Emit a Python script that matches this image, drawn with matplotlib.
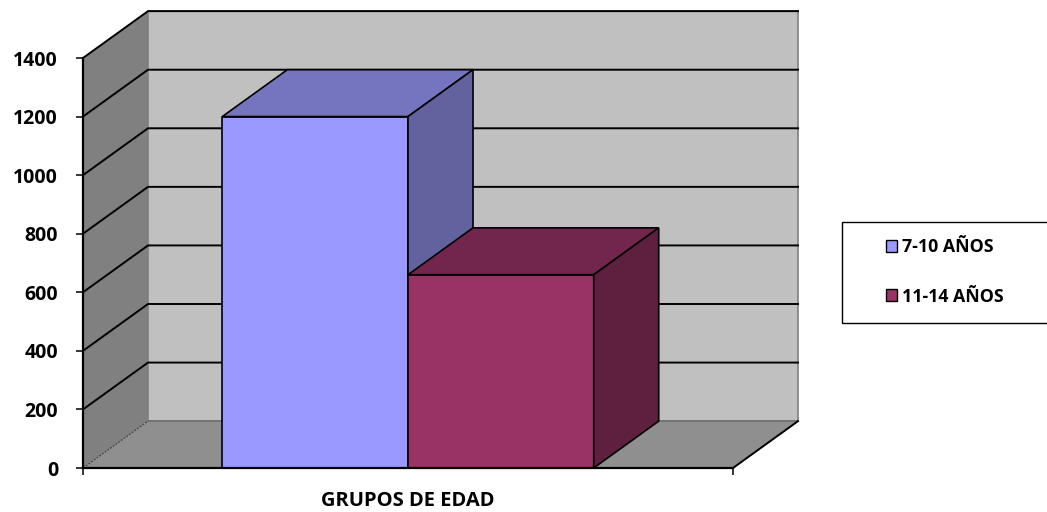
import matplotlib.pyplot as plt
from matplotlib.patches import Polygon, Rectangle, Patch

# Data
series_labels = ["7-10 AÑOS", "11-14 AÑOS"]
series_values = [1200, 660]
y_ticks = [0, 200, 400, 600, 800, 1000, 1200, 1400]
x_title = "GRUPOS DE EDAD"

# Face colours for each bar: front, top, side
front_colors = ["#9999FF", "#993366"]
top_colors = ["#7575BF", "#73264D"]
side_colors = ["#62629F", "#5F1F3F"]

plt.rcParams['font.family'] = ['Open Sans', 'DejaVu Sans']
plt.rcParams['font.weight'] = 'bold'

W, H = 1047, 512
fig = plt.figure(figsize=(W / 100, H / 100), dpi=100)
ax = fig.add_axes([83 / W, (H - 468) / H, 650 / W, 410 / H])
ax.set_xlim(0, 1)
ax.set_ylim(0, 1400)
ax.patch.set_visible(False)

# depth offset of the 3D box, in data units
DX, DY = 0.1, 160
YMAX = y_ticks[-1]


def poly(pts, fc, ec="none", lw=0.0, z=1):
    p = Polygon(pts, closed=True, facecolor=fc, edgecolor=ec, linewidth=lw,
                zorder=z, clip_on=False, joinstyle="miter")
    ax.add_patch(p)


# walls and floor
poly([(DX, DY), (1 + DX, DY), (1 + DX, YMAX + DY), (DX, YMAX + DY)],
     "#C0C0C0", "#808080", 1.2, z=1)
poly([(0, 0), (DX, DY), (DX, YMAX + DY), (0, YMAX)], "#808080", z=1)
poly([(0, 0), (1, 0), (1 + DX, DY), (DX, DY)], "#8F8F8F", z=1)

# gridlines on side and back walls
for v in y_ticks:
    if v == 0:
        ax.plot([0, DX], [0, DY], color="#404040", lw=0.8, ls=(0, (2, 1)),
                clip_on=False, zorder=2)
        ax.plot([DX, 1 + DX], [DY, DY], color="#707070", lw=1.2,
                clip_on=False, zorder=2)
        continue
    ax.plot([0, DX, 1 + DX], [v, v + DY, v + DY], color="black", lw=1.4,
            clip_on=False, zorder=2, solid_joinstyle="miter")

# floor right edge
ax.plot([1, 1 + DX], [0, DY], color="black", lw=1.4, clip_on=False, zorder=2)

# bars, gap width 150%
n = len(series_values)
bw = 1 / (n + 1.5)
start = 0.5 - n * bw / 2
for i, v in enumerate(series_values):
    x0 = start + i * bw
    x1 = x0 + bw
    z = 3 + i
    poly([(x0, 0), (x1, 0), (x1, v), (x0, v)], front_colors[i], "black", 1.2, z)
    poly([(x0, v), (x1, v), (x1 + DX, v + DY), (x0 + DX, v + DY)],
         top_colors[i], "black", 1.2, z)
    poly([(x1, 0), (x1 + DX, DY), (x1 + DX, v + DY), (x1, v)],
         side_colors[i], "black", 1.2, z)

# axes
for s in ["top", "right"]:
    ax.spines[s].set_visible(False)
for s in ["left", "bottom"]:
    ax.spines[s].set_linewidth(1.6)
    ax.spines[s].set_zorder(6)
ax.set_yticks(y_ticks)
ax.set_yticklabels([str(t) for t in y_ticks], fontsize=14, fontweight="bold")
ax.tick_params(axis="y", direction="out", length=5, width=1.1, pad=13)
ax.set_xticks([0, 1])
ax.set_xticklabels(["", ""])
ax.tick_params(axis="x", direction="out", length=5, width=1.1)
ax.set_xlabel(x_title, fontsize=14.5, fontweight="bold")
ax.xaxis.set_label_coords(0.5, -0.056)

# legend
fig.patches.append(Rectangle((842 / W, (H - 323) / H), 0.3, 101 / H,
                             transform=fig.transFigure, facecolor="white",
                             edgecolor="black", linewidth=1.0))
handles = [Patch(facecolor=c, edgecolor="black", linewidth=1.0) for c in front_colors]
fig.legend(handles, series_labels, loc="center left",
           bbox_to_anchor=(886 / W, (H - 272) / H), frameon=False,
           prop={"size": 12.8, "weight": "bold"}, handlelength=0.64,
           handleheight=0.64, handletextpad=0.25, labelspacing=1.75,
           borderpad=0, borderaxespad=0)

fig.savefig("out.png", dpi=100)
